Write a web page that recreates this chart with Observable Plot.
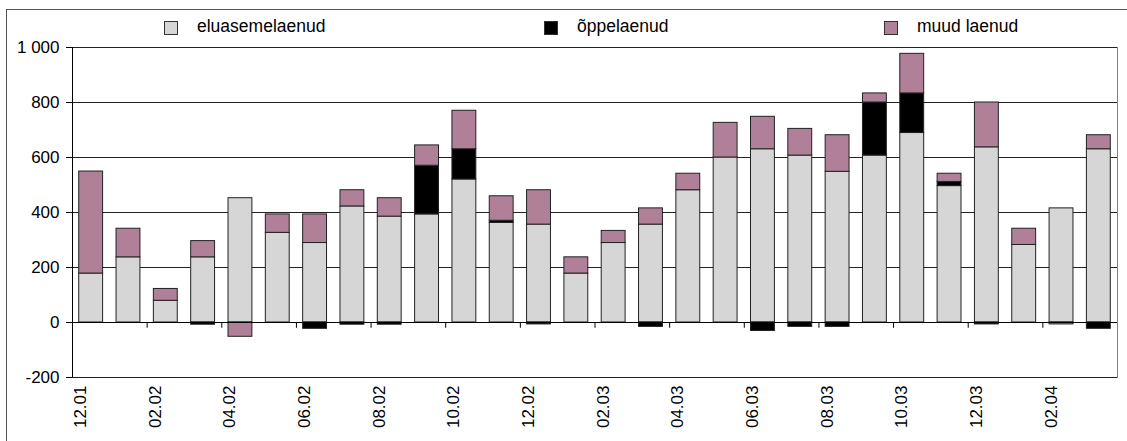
<!DOCTYPE html>
<html><head><meta charset="utf-8">
<script src="https://cdn.jsdelivr.net/npm/d3@7"></script>
<script src="https://cdn.jsdelivr.net/npm/@observablehq/plot@0.6"></script>
<style>
body{margin:0;width:1127px;height:441px;overflow:hidden;background:#fff;font-family:"Liberation Sans",Arial,sans-serif;position:relative}
#frame{position:absolute;left:6px;top:9px;width:1200px;height:600px;border-left:1px solid #555;border-top:1px solid #555;pointer-events:none}
#legend{position:relative;height:38px}
.sw{position:absolute;top:21px;width:12px;height:12px;border:1px solid #333;box-sizing:content-box}
.lb{position:absolute;top:18.4px;font-size:17.5px;line-height:17px;color:#000;white-space:nowrap}
</style></head><body>
<div id="frame"></div>
<div id="legend"></div>
<div id="chart"></div>
<script>
const months = ["12.01","01.02","02.02","03.02","04.02","05.02","06.02","07.02","08.02","09.02","10.02","11.02","12.02","01.03","02.03","03.03","04.03","05.03","06.03","07.03","08.03","09.03","10.03","11.03","12.03","01.04","02.04","03.04"];
const tickLabels = ["12.01","02.02","04.02","06.02","08.02","10.02","12.02","02.03","04.03","06.03","08.03","10.03","12.03","02.04"];
const seriesNames = ["eluasemelaenud","õppelaenud","muud laenud"];
const seriesColors = ["#d6d6d6","#000000","#b08098"];
const eluasemelaenud = [178,237,79,237,452,326,289,422,385,393,520,362,356,178,289,356,481,600,630,607,548,607,689,496,637,282,415,630];
const oppelaenud = [0,0,0,-8,0,0,-23,-8,-8,177,110,8,-7,0,0,-16,0,0,-31,-16,-16,193,144,15,-7,0,0,-23];
const muudLaenud = [371,104,43,59,-52,67,104,59,67,74,140,89,125,59,44,59,60,126,118,97,133,33,144,30,163,59,-7,51];
const yTicks = [-200,0,200,400,600,800,1000];
const boundaryMonths = ["02.02","04.02","06.02","08.02","10.02","12.02","02.03","04.03","06.03","08.03","10.03","12.03","02.04"];

// legend
const legendPos = [[164,197],[544,577],[884,917]];
const lg = document.getElementById("legend");
seriesNames.forEach((s,i)=>{
  const sw = document.createElement("div");
  sw.className = "sw"; sw.style.left = legendPos[i][0] + "px"; sw.style.background = seriesColors[i];
  const lb = document.createElement("div");
  lb.className = "lb"; lb.style.left = legendPos[i][1] + "px"; lb.textContent = s;
  lg.appendChild(sw); lg.appendChild(lb);
});

const width = 1127, height = 403, mL = 72, mR = 10, mT = 9, mB = 64;
const step = (width - mL - mR) / months.length;
const data = months.flatMap((m,i)=>[
  {month:m, series:seriesNames[0], value:eluasemelaenud[i]},
  {month:m, series:seriesNames[1], value:oppelaenud[i]},
  {month:m, series:seriesNames[2], value:muudLaenud[i]}
]).filter(d=>d.value !== 0);
const fmt = d => String(d).replace(/\B(?=(\d{3})+(?!\d))/g, " ");

const chart = Plot.plot({
  width, height, marginLeft: mL, marginRight: mR, marginTop: mT, marginBottom: mB,
  style: {fontFamily: '"Liberation Sans", Arial, sans-serif', fontSize: "17px", color: "#000", background: "transparent", overflow: "visible"},
  x: {type: "band", domain: months, paddingInner: 0.36, paddingOuter: 0.18, round: false, axis: null},
  y: {domain: [-200, 1000], axis: null},
  color: {domain: seriesNames, range: seriesColors},
  marks: [
    Plot.frame({stroke: "#808080"}),
    Plot.gridY({ticks: yTicks, stroke: "#222", strokeOpacity: 1}),
    Plot.barY(data, Plot.stackY({x: "month", y: "value", fill: "series", order: seriesNames, stroke: "#222", strokeWidth: 1})),
    Plot.ruleY([0], {stroke: "#000"}),
    Plot.ruleX(boundaryMonths, {x: d => d, y1: 0, y2: -21, dx: -step/2, stroke: "#000"}),
    Plot.ruleX([months[0]], {x: d => d, dx: -step/2, stroke: "#000"}),
    Plot.axisY({ticks: yTicks, tickSize: 6, tickPadding: 7, tickFormat: fmt, fontSize: 17, label: null}),
    Plot.text(tickLabels, {x: d => d, frameAnchor: "bottom", dy: 8, dx: -5, rotate: -90, textAnchor: "end", fontSize: 17, fill: "#000"})
  ]
});
document.getElementById("chart").appendChild(chart);
</script>
</body></html>
